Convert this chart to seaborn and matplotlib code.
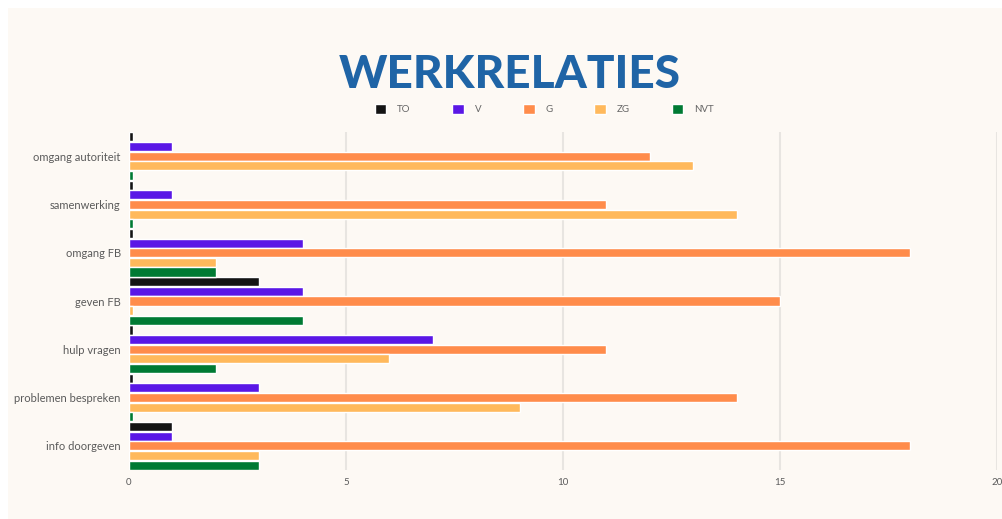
import pandas as pd
import matplotlib.pyplot as plt
import seaborn as sns
from matplotlib.patches import Rectangle

# Chart values
categories = ["omgang autoriteit", "samenwerking", "omgang FB", "geven FB",
              "hulp vragen", "problemen bespreken", "info doorgeven"]
series = ["TO", "V", "G", "ZG", "NVT"]
to_vals = [0.1, 0.1, 0.1, 3, 0.1, 0.1, 1]
v_vals = [1, 1, 4, 4, 7, 3, 1]
g_vals = [12, 11, 18, 15, 11, 14, 18]
zg_vals = [13, 14, 2, 0.1, 6, 9, 3]
nvt_vals = [0.1, 0.1, 2, 4, 2, 0.1, 3]
colors = ["#141414", "#5a17e6", "#ff8c4b", "#ffb95c", "#007a33"]

rows = []
for name, vals in zip(series, [to_vals, v_vals, g_vals, zg_vals, nvt_vals]):
    for cat, v in zip(categories, vals):
        rows.append({"categorie": cat, "reeks": name, "aantal": v})
df = pd.DataFrame(rows)

sns.set_style("white")
plt.rcParams["font.family"] = ["Lato", "DejaVu Sans"]

bg = "#fdf9f4"
fig = plt.figure(figsize=(10.02, 5.19), dpi=100)
fig.patch.set_facecolor("white")
fig.patches.append(Rectangle((8 / 1002, 0), 1, 1 - 8 / 519, transform=fig.transFigure,
                             facecolor=bg, edgecolor="none", zorder=-10))

ax = fig.add_axes([129 / 1002, 1 - 470 / 519, 868 / 1002, 338 / 519])
ax.set_facecolor(bg)
sns.barplot(data=df, y="categorie", x="aantal", hue="reeks", order=categories,
            hue_order=series, palette=colors, saturation=1, orient="h",
            width=1.0, gap=0.06, ax=ax, legend=False)

ax.set_xlim(0, 20)
ax.set_xticks([0, 5, 10, 15, 20])
ax.xaxis.grid(True, color="#e8e5e1", linewidth=1.5)
ax.set_axisbelow(True)
for s in ax.spines.values():
    s.set_visible(False)
ax.set_xlabel("")
ax.set_ylabel("")
ax.tick_params(axis="both", length=0, labelcolor="#5a5a5a")
ax.tick_params(axis="x", pad=6, labelsize=7)
ax.tick_params(axis="y", pad=6, labelsize=8)

fig.text(0.509, 1 - 75 / 519, "WERKRELATIES", ha="center", va="center",
         fontsize=33, fontweight="black", color="#1f64a6")

handles = [Rectangle((0, 0), 1, 1, facecolor=c) for c in colors]
fig.legend(handles, series, loc="center", bbox_to_anchor=(0.543, 1 - 109 / 519),
           ncol=5, frameon=False, fontsize=7, labelcolor="#666666",
           handlelength=1.2, handleheight=1.3, columnspacing=4.3, handletextpad=1.1)

fig.savefig("out.png", dpi=100, facecolor=fig.get_facecolor())
